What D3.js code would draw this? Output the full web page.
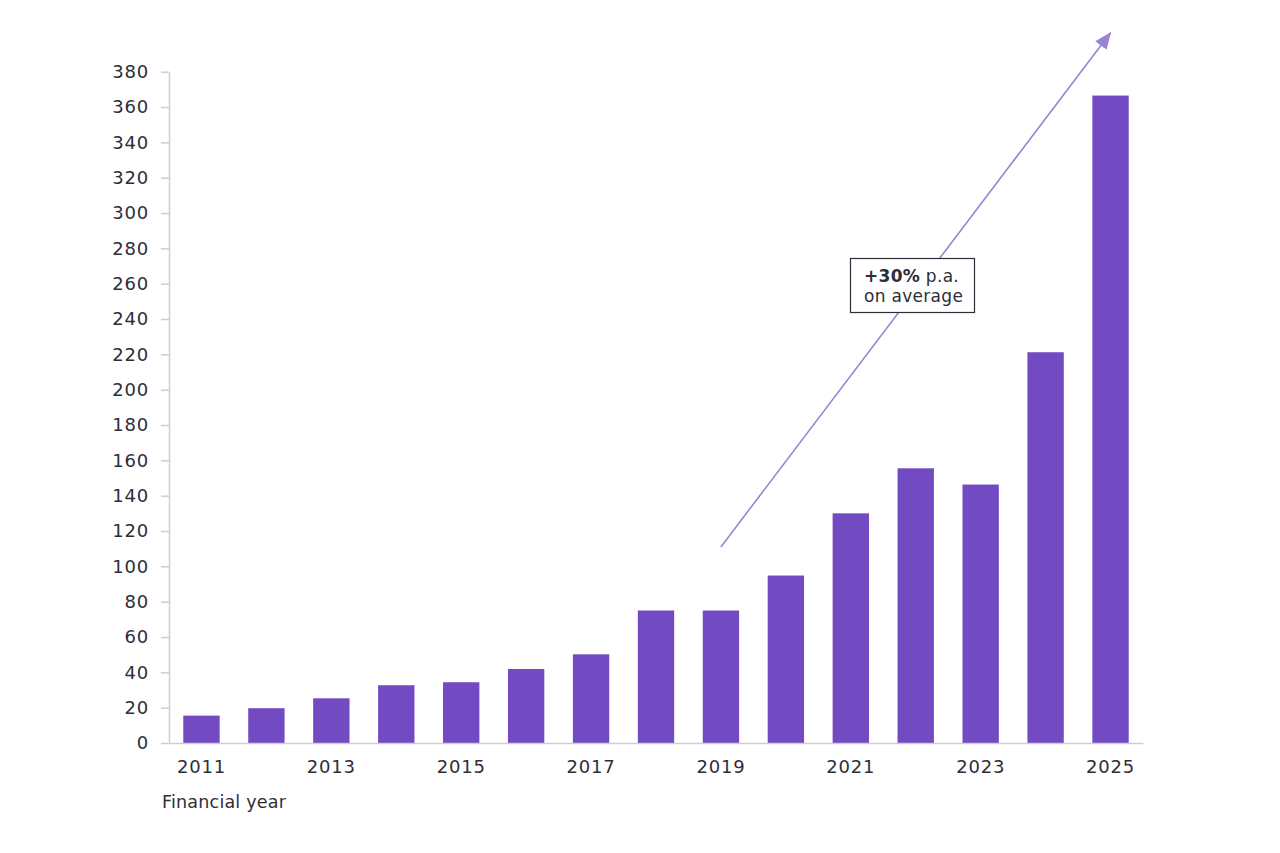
<!DOCTYPE html>
<html>
<head>
<meta charset="utf-8">
<script src="https://cdn.jsdelivr.net/npm/d3@7"></script>
<style>
  body { margin: 0; background: #fff; }
  text { font-family: "DejaVu Sans", Verdana, sans-serif; fill: #2e2e38; }
</style>
</head>
<body>
<div id="chart"></div>
<script>
// data
const years = [2011, 2012, 2013, 2014, 2015, 2016, 2017, 2018, 2019, 2020, 2021, 2022, 2023, 2024, 2025];
const values = [15.5, 19.7, 25.3, 32.7, 34.4, 41.9, 50.2, 75, 75, 94.8, 130, 155.5, 146.3, 221.2, 366.5];
const yTicks = d3.range(0, 381, 20);
const xTickYears = [2011, 2013, 2015, 2017, 2019, 2021, 2023, 2025];
const trendFrom = { year: 2019, value: 111 };
const trendTo = { year: 2025, value: 402 };

const barColor = "#724bc3";
const arrowColor = "#9a84d6";
const axisColor = "#cfcbdb";

var svg = d3.select("#chart").append("svg")
    .attr("width", 1280)
    .attr("height", 853);

var x = d3.scaleBand()
    .domain(years)
    .range([169, 1143])
    .paddingInner(0.44)
    .paddingOuter(0.22);

var y = d3.scaleLinear()
    .domain([0, 380])
    .range([743, 71.7]);

// y axis
var yAxis = svg.append("g")
    .attr("transform", "translate(169,0)")
    .call(d3.axisLeft(y).tickValues(yTicks).tickSize(8).tickPadding(12).tickSizeOuter(0));
yAxis.select(".domain").attr("stroke", axisColor).attr("stroke-width", 1.5);
yAxis.selectAll(".tick line").attr("stroke", axisColor).attr("stroke-width", 1.5);
yAxis.selectAll("text")
    .attr("font-size", 18)
    .attr("letter-spacing", 0.8)
    .attr("font-family", null)
    .attr("fill", "#2e2e38");

// bars
svg.append("g")
    .selectAll("rect")
    .data(years)
    .enter()
    .append("rect")
        .attr("x", function(d) { return x(d); })
        .attr("y", function(d, i) { return y(values[i]); })
        .attr("width", x.bandwidth())
        .attr("height", function(d, i) { return y(0) - y(values[i]); })
        .style("fill", barColor);

// x axis
var xAxis = svg.append("g")
    .attr("transform", "translate(0," + y(0) + ")")
    .call(d3.axisBottom(x).tickValues(xTickYears).tickSize(0).tickPadding(17).tickSizeOuter(0));
xAxis.select(".domain").attr("stroke", axisColor).attr("stroke-width", 1.5);
xAxis.selectAll("text")
    .attr("font-size", 18)
    .attr("letter-spacing", 0.8)
    .attr("font-family", null)
    .attr("fill", "#2e2e38");

svg.append("text")
    .attr("x", 162)
    .attr("y", 808)
    .attr("font-size", 17.5)
    .attr("letter-spacing", 0.2)
    .text("Financial year");

// trend arrow
svg.append("defs").append("marker")
    .attr("id", "arrowhead")
    .attr("markerUnits", "userSpaceOnUse")
    .attr("markerWidth", 18)
    .attr("markerHeight", 14)
    .attr("refX", 16)
    .attr("refY", 7)
    .attr("orient", "auto")
    .append("path")
        .attr("d", "M0,0 L17,7 L0,14 Z")
        .attr("fill", arrowColor);

var cx = function(yr) { return x(yr) + x.bandwidth() / 2; };

svg.append("line")
    .attr("x1", cx(trendFrom.year))
    .attr("y1", y(trendFrom.value))
    .attr("x2", cx(trendTo.year))
    .attr("y2", y(trendTo.value))
    .attr("stroke", arrowColor)
    .attr("stroke-width", 1.6)
    .attr("marker-end", "url(#arrowhead)");

// annotation box
var note = svg.append("g").attr("transform", "translate(850,258)");
note.append("rect")
    .attr("x", 0.5)
    .attr("y", 0.5)
    .attr("width", 124)
    .attr("height", 54)
    .attr("fill", "#fff")
    .attr("stroke", "#2e2e38")
    .attr("stroke-width", 1.2);
var line1 = note.append("text")
    .attr("x", 14)
    .attr("y", 24)
    .attr("font-size", 17)
    .attr("letter-spacing", 0.3);
line1.append("tspan").attr("font-weight", "bold").text("+30%");
line1.append("tspan").text(" p.a.");
note.append("text")
    .attr("x", 14)
    .attr("y", 44)
    .attr("font-size", 17)
    .attr("letter-spacing", 0.3)
    .text("on average");
</script>
</body>
</html>
